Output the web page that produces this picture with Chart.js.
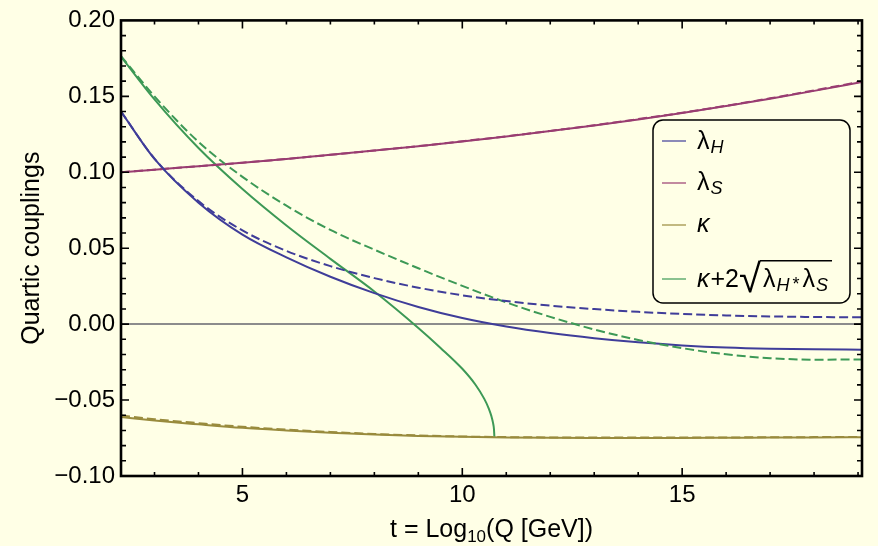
<!DOCTYPE html>
<html>
<head>
<meta charset="utf-8">
<script src="https://cdn.jsdelivr.net/npm/chart.js@4/dist/chart.umd.min.js"></script>
<style>
  html, body { margin: 0; padding: 0; background: #FFFFE6; }
  #wrap { width: 878px; height: 546px; }
</style>
</head>
<body>
<div id="wrap"><canvas id="grafico" width="878" height="546"></canvas></div>
<script>
// valores
const tGrid = [2.238, 3, 4, 5, 6, 7, 8, 9, 10, 11, 12, 13, 14, 15, 16, 17, 18, 19.09];

const lambdaH       = [0.1400, 0.1088, 0.0800, 0.0590, 0.0440, 0.0312, 0.0204, 0.0113, 0.0040, -0.0016, -0.0059, -0.0093, -0.0120, -0.0140, -0.0154, -0.0162, -0.0166, -0.0168];
const lambdaHDashed = [0.1400, 0.1090, 0.0810, 0.0617, 0.0482, 0.0382, 0.0303, 0.0240, 0.0190, 0.0152, 0.0122, 0.0099, 0.0081, 0.0067, 0.0057, 0.0051, 0.0047, 0.0045];

const lambdaS       = [0.1000, 0.1017, 0.1040, 0.1063, 0.1088, 0.1115, 0.1143, 0.1172, 0.1203, 0.1236, 0.1271, 0.1308, 0.1348, 0.1390, 0.1436, 0.1484, 0.1536, 0.1595];
const lambdaSDashed = [0.1000, 0.1017, 0.1040, 0.1063, 0.1088, 0.1115, 0.1143, 0.1172, 0.1204, 0.1237, 0.1272, 0.1310, 0.1350, 0.1392, 0.1438, 0.1487, 0.1539, 0.1598];

const kappa       = [-0.0612, -0.0635, -0.0660, -0.0683, -0.0700, -0.0715, -0.0727, -0.0736, -0.0742, -0.0746, -0.0748, -0.0749, -0.0749, -0.0749, -0.0748, -0.0747, -0.0746, -0.0745];
const kappaDashed = [-0.0602, -0.0626, -0.0652, -0.0676, -0.0694, -0.0710, -0.0723, -0.0733, -0.0740, -0.0744, -0.0746, -0.0747, -0.0747, -0.0747, -0.0746, -0.0745, -0.0744, -0.0743];

// curva verde sólida termina quando lambdaH chega a zero
const tGreen = [2.238, 3, 4, 5, 6, 7, 8, 9, 9.5, 10, 10.3, 10.5, 10.6, 10.66, 10.7, 10.72, 10.73];
const combo  = [0.1762, 0.1480, 0.1160, 0.0890, 0.0650, 0.0430, 0.0215, -0.0025, -0.0155, -0.0294, -0.0399, -0.0492, -0.0554, -0.0604, -0.0652, -0.0691, -0.0745];
const comboDashed = [0.1765, 0.1500, 0.1200, 0.0970, 0.0780, 0.0620, 0.0490, 0.0368, 0.0252, 0.0143, 0.0048, -0.0035, -0.0104, -0.0158, -0.0199, -0.0224, -0.0234, -0.0233];

const xTickLabels = [5, 10, 15];
const yTickLabels = [-0.10, -0.05, 0.00, 0.05, 0.10, 0.15, 0.20];

const corAzul = '#3F3D99';
const corRoxo = '#993D71';
const corOliva = '#998B3D';
const corVerde = '#3D9956';
const fundo = '#FFFFE6';
const fonte = '"Liberation Sans", Arial, sans-serif';

function pontos(xs, ys) {
    return xs.map((x, i) => ({ x: x, y: ys[i] }));
}

function serie(label, xs, ys, cor, tracejado, ordem) {
    return {
        label: label,
        data: pontos(xs, ys),
        borderColor: cor,
        borderWidth: 2,
        borderDash: tracejado ? [9, 4] : [],
        pointRadius: 0,
        fill: false,
        cubicInterpolationMode: 'monotone',
        order: ordem
    };
}

// fundo creme
const pluginFundo = {
    id: 'fundo',
    beforeDraw(chart) {
        const ctx = chart.ctx;
        ctx.save();
        ctx.fillStyle = fundo;
        ctx.fillRect(0, 0, chart.width, chart.height);
        ctx.restore();
    }
};

// escreve texto com partes em fontes diferentes (subscritos)
function textoRico(ctx, partes, x, y) {
    let cx = x;
    partes.forEach(p => {
        ctx.font = p.font;
        ctx.fillText(p.t, cx, y + (p.dy || 0));
        cx += ctx.measureText(p.t).width + (p.gap || 0);
    });
    return cx;
}

const F = '25px ' + fonte;
const FI = 'italic 25px ' + fonte;
const FS = 'italic 18px ' + fonte;

// moldura, marcas, títulos e legenda no estilo do Mathematica
const pluginMoldura = {
    id: 'moldura',
    afterDraw(chart) {
        const ctx = chart.ctx;
        const a = chart.chartArea;
        const sx = chart.scales.x, sy = chart.scales.y;
        ctx.save();
        ctx.strokeStyle = '#000';
        ctx.lineWidth = 1.6;
        for (let k = 3; k <= 19; k++) {
            const px = sx.getPixelForValue(k);
            const len = k % 5 === 0 ? 8 : 4;
            ctx.beginPath();
            ctx.moveTo(px, a.bottom); ctx.lineTo(px, a.bottom - len);
            ctx.moveTo(px, a.top); ctx.lineTo(px, a.top + len);
            ctx.stroke();
        }
        for (let k = -9; k <= 19; k++) {
            const py = sy.getPixelForValue(k / 100);
            const len = k % 5 === 0 ? 8 : 5;
            ctx.beginPath();
            ctx.moveTo(a.left, py); ctx.lineTo(a.left + len, py);
            ctx.moveTo(a.right, py); ctx.lineTo(a.right - len, py);
            ctx.stroke();
        }
        ctx.lineWidth = 2.6;
        ctx.strokeRect(a.left, a.top, a.right - a.left, a.bottom - a.top);

        // títulos dos eixos
        ctx.fillStyle = '#000';
        ctx.textBaseline = 'alphabetic';
        const partesX = [
            { t: 't = Log', font: F },
            { t: '10', font: '17px ' + fonte, dy: 5 },
            { t: '(Q [GeV])', font: F }
        ];
        let larg = 0;
        partesX.forEach(p => { ctx.font = p.font; larg += ctx.measureText(p.t).width; });
        textoRico(ctx, partesX, (a.left + a.right) / 2 - larg / 2, 537);

        ctx.save();
        ctx.translate(39, (a.top + a.bottom) / 2);
        ctx.rotate(-Math.PI / 2);
        ctx.font = F;
        ctx.textAlign = 'center';
        ctx.fillText('Quartic couplings', 0, 0);
        ctx.restore();

        // legenda
        const bx = 653, by = 120, bw = 197, bh = 183, r = 10;
        ctx.beginPath();
        ctx.roundRect(bx, by, bw, bh, r);
        ctx.fillStyle = fundo;
        ctx.fill();
        ctx.lineWidth = 1.5;
        ctx.strokeStyle = '#000';
        ctx.stroke();

        const itens = [
            { cor: corAzul, y: 141, base: 149, partes: [
                { t: 'λ', font: F, gap: 1 },
                { t: 'H', font: FS, dy: 4 }] },
            { cor: corRoxo, y: 183, base: 190, partes: [
                { t: 'λ', font: F, gap: 1 },
                { t: 'S', font: FS, dy: 4 }] },
            { cor: corOliva, y: 225, base: 232, partes: [
                { t: 'κ', font: FI }] },
            { cor: corVerde, y: 279, base: 287, partes: null }
        ];
        itens.forEach(it => {
            ctx.strokeStyle = it.cor;
            ctx.lineWidth = 1.2;
            ctx.beginPath();
            ctx.moveTo(662, it.y); ctx.lineTo(686, it.y);
            ctx.stroke();
            ctx.fillStyle = '#000';
            if (it.partes) {
                textoRico(ctx, it.partes, 697, it.base);
            }
        });
        // kappa + 2 raiz(lambdaH * lambdaS)
        let cx = textoRico(ctx, [
            { t: 'κ', font: FI, gap: 1 },
            { t: '+2', font: F }
        ], 697, 287);
        ctx.font = '40px ' + fonte;
        const mr = ctx.measureText('√');
        ctx.fillText('√', cx, 292);
        const topoRaiz = 292 - mr.actualBoundingBoxAscent;
        const fimRaiz = cx + mr.actualBoundingBoxRight;
        cx = textoRico(ctx, [
            { t: 'λ', font: F, gap: 1 },
            { t: 'H', font: FS, dy: 4, gap: 3 },
            { t: '*', font: '18px ' + fonte, dy: 3, gap: 3 },
            { t: 'λ', font: F, gap: 1 },
            { t: 'S', font: FS, dy: 4 }
        ], fimRaiz + 2, 287);
        ctx.strokeStyle = '#000';
        ctx.lineWidth = 1.4;
        ctx.beginPath();
        ctx.moveTo(fimRaiz - 1, topoRaiz + 0.7); ctx.lineTo(cx + 4, topoRaiz + 0.7);
        ctx.stroke();
        ctx.restore();
    }
};

const dados = {
    datasets: [
        serie('λH tracejado', tGrid, lambdaHDashed, corAzul, true, 0),
        serie('λS tracejado', tGrid, lambdaSDashed, corRoxo, true, 0),
        serie('κ tracejado', tGrid, kappaDashed, corOliva, true, 0),
        serie('κ+2√(λH*λS) tracejado', tGrid, comboDashed, corVerde, true, 0),
        serie('λH', tGrid, lambdaH, corAzul, false, 1),
        serie('λS', tGrid, lambdaS, corRoxo, false, 1),
        serie('κ', tGrid, kappa, corOliva, false, 1),
        serie('κ+2√(λH*λS)', tGreen, combo, corVerde, false, 1)
    ]
};

const config = {
    type: 'line',
    data: dados,
    plugins: [pluginFundo, pluginMoldura],
    options: {
        responsive: false,
        animation: false,
        layout: { padding: { top: 16, right: 16, left: 0, bottom: 0 } },
        plugins: {
            legend: { display: false },
            tooltip: { enabled: false }
        },
        scales: {
            x: {
                type: 'linear',
                min: 2.238,
                max: 19.09,
                afterBuildTicks: s => { s.ticks = xTickLabels.map(v => ({ value: v })); },
                afterFit: s => { s.height = 70; },
                border: { display: false },
                grid: { display: false, drawTicks: false },
                ticks: {
                    color: '#000',
                    padding: 5,
                    maxRotation: 0,
                    font: { family: fonte, size: 24 }
                }
            },
            y: {
                type: 'linear',
                min: -0.1,
                max: 0.2,
                afterBuildTicks: s => { s.ticks = yTickLabels.map(v => ({ value: v })); },
                afterFit: s => { s.width = 121; },
                border: { display: false },
                grid: {
                    drawTicks: false,
                    lineWidth: 2,
                    color: c => (c.tick && Math.abs(c.tick.value) < 1e-9) ? '#8C8C8C' : 'rgba(0,0,0,0)'
                },
                ticks: {
                    color: '#000',
                    padding: 6,
                    font: { family: fonte, size: 24 },
                    callback: v => (v < 0 ? '\u2212' : '') + Math.abs(v).toFixed(2)
                }
            }
        }
    }
};

const ctx = document.getElementById('grafico').getContext('2d');
const meuGrafico = new Chart(ctx, config);
</script>
</body>
</html>
